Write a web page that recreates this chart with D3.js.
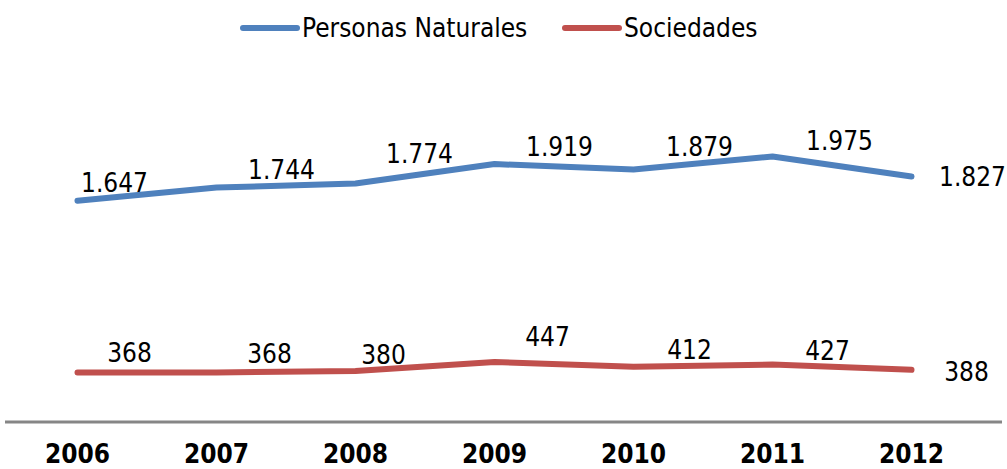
<!DOCTYPE html>
<html>
<head>
<meta charset="utf-8">
<script src="https://cdn.jsdelivr.net/npm/d3@7"></script>
<style>
	body { margin: 0; background: #fff; }
	text { font-family: "DejaVu Sans Condensed", "DejaVu Sans", sans-serif; }
</style>
</head>
<body>
<div id="chart"></div>
<script>
// data
let years = ["2006", "2007", "2008", "2009", "2010", "2011", "2012"];
let personasNaturales = [1647, 1744, 1774, 1919, 1879, 1975, 1827];
let sociedades = [368, 368, 380, 447, 412, 427, 388];
let seriesNames = ["Personas Naturales", "Sociedades"];

// hand-placed label nudges (dx, dy from the point), as in the original
let nudgePN = [[37, -9], [65, -9], [64, -21], [65, -8], [66, -13], [67, -7], [61, 10]];
let nudgeSoc = [[52, -11], [53, -10], [28, -7], [53, -16], [56, -8], [55, -5], [55, 11]];

let C = {
	width: 1007,
	height: 469,
	colorPN: "#4F81BD",
	colorSoc: "#C0504D",
	lineWidth: 6,
	fontSize: 26
};

let svg = d3.select("#chart").append("svg")
	.attr("width", C.width)
	.attr("height", C.height);

let x = d3.scaleBand()
	.domain(years)
	.range([8, 981]);

let y = d3.scaleLinear()
	.domain([0, 2500])
	.range([422, 86]);

let line = d3.line()
	.x((d, i) => x(years[i]) + x.bandwidth() / 2)
	.y((d) => y(d));

/* axis line at zero */
svg.append("line")
	.attr("x1", 5).attr("x2", 1002)
	.attr("y1", y(0)).attr("y2", y(0))
	.attr("stroke", "#868686")
	.attr("stroke-width", 3);

/* year labels */
let xAxis = svg.append("g")
	.attr("transform", `translate(0,${y(0)})`)
	.call(d3.axisBottom(x).tickSize(0).tickPadding(23));
xAxis.select(".domain").remove();
xAxis.selectAll("text")
	.attr("font-family", null)
	.style("font-size", C.fontSize + "px")
	.style("font-weight", "bold")
	.attr("fill", "#000");

let series = [
	{name: seriesNames[0], values: personasNaturales, color: C.colorPN, nudge: nudgePN},
	{name: seriesNames[1], values: sociedades, color: C.colorSoc, nudge: nudgeSoc}
];

// thousands separator as a dot
let fmtEs = (v) => d3.format(",")(v).replace(/,/g, ".");

series.forEach((s) => {
	svg.append("path")
		.datum(s.values)
		.attr("d", line)
		.attr("fill", "none")
		.attr("stroke", s.color)
		.attr("stroke-width", C.lineWidth)
		.attr("stroke-linecap", "round")
		.attr("stroke-linejoin", "round");

	svg.append("g").selectAll("text")
		.data(s.values)
		.join("text")
		.attr("x", (d, i) => x(years[i]) + x.bandwidth() / 2 + s.nudge[i][0])
		.attr("y", (d, i) => y(d) + s.nudge[i][1])
		.attr("text-anchor", "middle")
		.attr("font-size", C.fontSize)
		.attr("fill", "#000")
		.text(fmtEs);
});

/* legend */
let legend = svg.append("g");
let legendX = [243, 565];
series.forEach((s, i) => {
	let g = legend.append("g").attr("transform", `translate(${legendX[i]},28)`);
	g.append("line")
		.attr("x1", 0).attr("x2", 54)
		.attr("stroke", s.color)
		.attr("stroke-width", C.lineWidth)
		.attr("stroke-linecap", "round");
	g.append("text")
		.attr("x", 59)
		.attr("y", 9)
		.attr("font-size", C.fontSize)
		.attr("fill", "#000")
		.text(s.name);
});
</script>
</body>
</html>
